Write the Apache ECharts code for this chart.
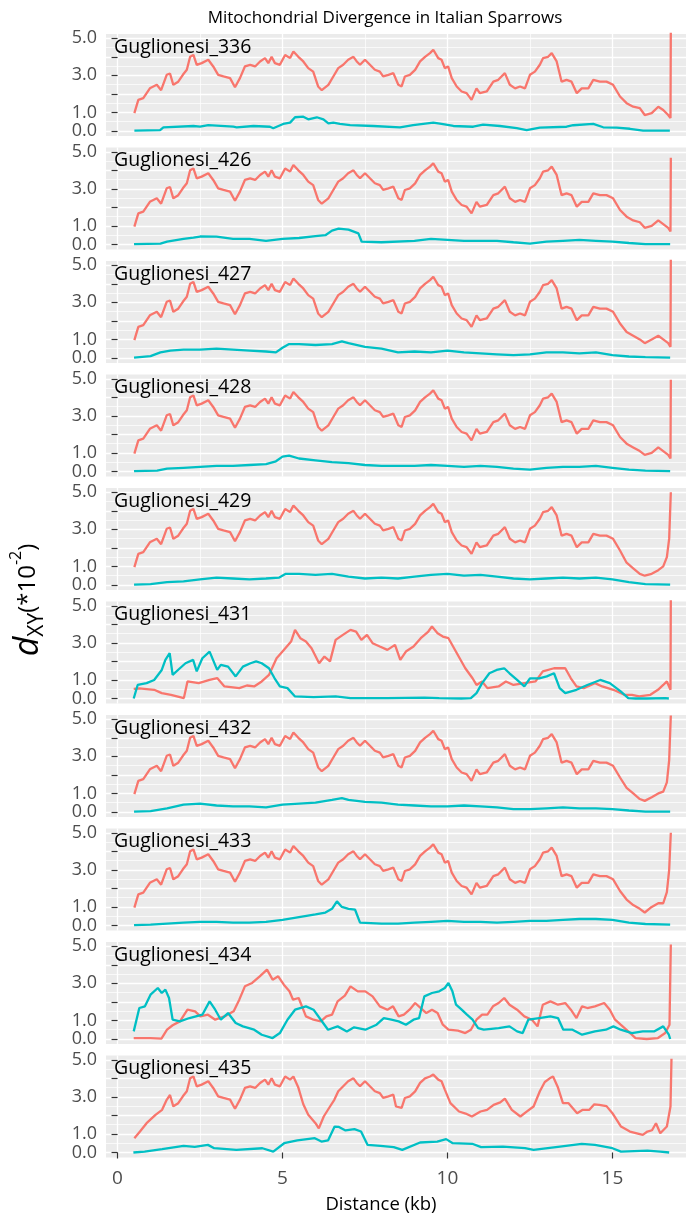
<!DOCTYPE html>
<html><head><meta charset="utf-8">
<script src="https://cdn.jsdelivr.net/npm/echarts@6/dist/echarts.min.js"></script>
<style>html,body{margin:0;padding:0;background:#fff}#c{width:686px;height:1218px}</style>
</head><body><div id="c"></div>
<script>
const panelNames = ['Guglionesi_336','Guglionesi_426','Guglionesi_427','Guglionesi_428','Guglionesi_429','Guglionesi_431','Guglionesi_432','Guglionesi_433','Guglionesi_434','Guglionesi_435'];
const yTickValues = [0,1,2,3,4,5];
const yLabelValues = [0,1,3,5];
const yMinorValues = [0.5,1.5,2.5,3.5,4.5];
const xTickValues = [0,5,10,15];
const xMinorValues = [2.5,7.5,12.5];

const red_336 = [[0.51,0.96],[0.63,1.68],[0.78,1.77],[0.98,2.3],[1.19,2.49],[1.32,2.2],[1.49,3.03],[1.59,3.1],[1.69,2.49],[1.84,2.66],[1.98,3.03],[2.1,3.3],[2.2,4.0],[2.3,4.1],[2.4,3.57],[2.55,3.66],[2.75,3.84],[2.9,3.48],[3.05,3.03],[3.21,2.94],[3.41,2.85],[3.56,2.36],[3.71,2.85],[3.86,3.48],[4.02,3.57],[4.17,3.48],[4.32,3.75],[4.47,3.93],[4.57,3.66],[4.67,4.0],[4.77,3.66],[4.92,3.57],[5.08,4.1],[5.23,3.93],[5.33,4.29],[5.48,4.0],[5.63,3.75],[5.78,3.39],[5.93,3.2],[6.08,2.4],[6.19,2.2],[6.39,2.49],[6.54,2.94],[6.69,3.39],[6.84,3.57],[6.99,3.84],[7.15,4.0],[7.25,3.75],[7.35,3.57],[7.5,3.84],[7.65,3.57],[7.8,3.3],[7.95,3.2],[8.05,2.94],[8.21,3.03],[8.36,3.12],[8.51,2.49],[8.61,2.4],[8.71,2.94],[8.86,3.03],[9.02,3.3],[9.17,3.75],[9.32,4.0],[9.47,4.2],[9.57,4.38],[9.72,3.93],[9.82,3.84],[9.92,3.39],[10.02,3.48],[10.13,2.85],[10.28,2.4],[10.43,2.13],[10.58,2.04],[10.73,1.68],[10.88,2.3],[10.98,2.04],[11.19,2.13],[11.39,2.66],[11.54,2.76],[11.74,3.12],[11.89,2.49],[12.05,2.3],[12.2,2.4],[12.35,2.3],[12.5,3.03],[12.65,3.2],[12.8,3.57],[12.9,3.93],[13.05,4.0],[13.16,4.2],[13.31,3.75],[13.46,2.66],[13.61,2.76],[13.76,2.66],[13.92,2.04],[14.07,2.3],[14.27,2.3],[14.42,2.76],[14.62,2.66],[14.82,2.66],[15.02,2.49],[15.23,1.86],[15.43,1.5],[15.63,1.31],[15.83,1.23],[15.98,0.86],[16.19,0.96],[16.39,1.31],[16.54,1.13],[16.69,0.86],[16.76,0.7],[16.77,5.6]];
const cyan_336 = [[0.51,0.02],[1.29,0.05],[1.39,0.2],[2.3,0.27],[2.5,0.23],[2.75,0.32],[3.51,0.23],[3.61,0.2],[4.12,0.27],[4.62,0.23],[4.72,0.15],[5.02,0.38],[5.23,0.45],[5.38,0.74],[5.63,0.77],[5.78,0.63],[6.04,0.74],[6.24,0.63],[6.39,0.41],[6.54,0.45],[6.74,0.38],[7.05,0.32],[7.75,0.27],[8.56,0.2],[8.96,0.32],[9.57,0.45],[9.82,0.38],[10.18,0.27],[10.78,0.23],[11.08,0.34],[11.59,0.27],[12.1,0.15],[12.4,0.05],[12.8,0.18],[13.61,0.23],[13.81,0.31],[14.42,0.38],[14.72,0.2],[15.13,0.18],[15.53,0.12],[15.93,0.02],[16.74,0.02]];

const redHead = red_336.filter(p => p[0] < 15.4);
const red_426 = redHead.concat([[15.43,1.5],[15.63,1.3],[15.83,1.2],[15.98,0.9],[16.19,1.0],[16.39,1.3],[16.54,1.1],[16.69,0.9],[16.76,0.7],[16.77,4.68]]);
const cyan_426 = [[0.5,0.02],[1.3,0.05],[1.5,0.15],[2.0,0.3],[2.3,0.37],[2.5,0.43],[3.0,0.42],[3.5,0.3],[4.0,0.3],[4.5,0.2],[5.0,0.3],[5.5,0.35],[6.0,0.45],[6.3,0.5],[6.5,0.75],[6.7,0.85],[7.0,0.8],[7.3,0.6],[7.4,0.15],[8.0,0.12],[9.0,0.2],[9.5,0.3],[10.0,0.25],[10.5,0.2],[11.0,0.2],[11.5,0.2],[12.0,0.12],[12.5,0.05],[13.0,0.15],[13.5,0.2],[14.0,0.25],[14.5,0.2],[15.0,0.15],[15.5,0.08],[16.0,0.02],[16.75,0.02]];
const red_427 = redHead.concat([[15.43,1.4],[15.63,1.2],[15.83,1.0],[15.98,0.8],[16.19,1.0],[16.39,1.2],[16.54,1.0],[16.69,0.8],[16.76,0.6],[16.77,5.6]]);
const cyan_427 = [[0.5,0.02],[1.0,0.1],[1.3,0.3],[1.6,0.4],[2.0,0.45],[2.5,0.45],[3.0,0.5],[3.5,0.45],[4.0,0.4],[4.5,0.35],[4.8,0.3],[5.0,0.55],[5.2,0.75],[5.5,0.75],[6.0,0.7],[6.5,0.75],[6.8,0.9],[7.0,0.8],[7.5,0.6],[8.0,0.5],[8.5,0.3],[9.0,0.35],[9.5,0.3],[10.0,0.4],[10.5,0.3],[11.0,0.25],[11.5,0.2],[12.0,0.15],[12.5,0.2],[13.0,0.3],[13.5,0.3],[14.0,0.25],[14.5,0.3],[15.0,0.15],[15.5,0.08],[16.0,0.05],[16.75,0.02]];
const red_428 = redHead.concat([[15.43,1.5],[15.63,1.3],[15.83,1.1],[15.98,0.9],[16.19,1.0],[16.39,1.3],[16.54,1.1],[16.69,0.9],[16.76,0.7],[16.77,4.95]]);
const cyan_428 = [[0.5,0.02],[1.2,0.05],[1.5,0.15],[2.0,0.2],[2.5,0.25],[3.0,0.3],[3.5,0.3],[4.0,0.35],[4.5,0.4],[4.8,0.55],[5.0,0.8],[5.2,0.85],[5.5,0.7],[6.0,0.6],[6.5,0.5],[7.0,0.45],[7.5,0.35],[8.0,0.3],[9.0,0.3],[9.5,0.35],[10.0,0.3],[10.5,0.25],[11.0,0.3],[11.5,0.25],[12.0,0.15],[12.5,0.1],[13.0,0.2],[13.5,0.25],[14.0,0.25],[14.5,0.3],[15.0,0.2],[15.5,0.1],[16.0,0.05],[16.75,0.02]];
const red_429 = redHead.concat([[15.43,1.2],[15.63,0.9],[15.83,0.6],[15.98,0.5],[16.19,0.6],[16.39,0.8],[16.54,1.0],[16.65,1.5],[16.72,2.5],[16.77,5.0]]);
const cyan_429 = [[0.5,0.02],[1.0,0.05],[1.5,0.15],[2.0,0.2],[2.5,0.3],[3.0,0.4],[3.5,0.35],[4.0,0.3],[4.5,0.35],[4.9,0.4],[5.1,0.6],[5.5,0.6],[6.0,0.55],[6.5,0.6],[7.0,0.45],[7.5,0.35],[8.0,0.4],[8.5,0.35],[9.0,0.45],[9.5,0.55],[10.0,0.6],[10.5,0.5],[11.0,0.55],[11.5,0.45],[12.0,0.35],[12.5,0.3],[13.0,0.35],[13.5,0.4],[14.0,0.35],[14.5,0.4],[15.0,0.3],[15.5,0.15],[16.0,0.05],[16.75,0.02]];
const red_431 = [[0.49,0.52],[0.66,0.55],[1.11,0.47],[1.34,0.29],[1.62,0.2],[2.01,0.02],[2.12,0.92],[2.46,0.83],[2.79,1.0],[3.02,1.1],[3.24,0.65],[3.69,0.56],[3.92,0.7],[4.14,0.65],[4.37,0.92],[4.59,1.27],[4.82,2.17],[5.04,2.62],[5.26,3.07],[5.38,3.7],[5.54,3.25],[5.71,3.07],[5.88,2.71],[6.11,1.9],[6.27,2.26],[6.44,2.0],[6.61,3.16],[6.83,3.43],[7.06,3.7],[7.23,3.61],[7.39,3.16],[7.56,3.43],[7.73,2.98],[7.95,2.8],[8.18,2.62],[8.41,2.89],[8.57,2.08],[8.74,2.53],[8.97,2.8],[9.19,3.25],[9.42,3.61],[9.53,3.88],[9.7,3.52],[9.86,3.34],[10.03,3.25],[10.2,2.71],[10.37,2.17],[10.54,1.63],[10.76,1.09],[10.88,0.73],[11.05,0.92],[11.21,0.56],[11.55,0.65],[11.77,0.92],[12.0,0.73],[12.33,0.83],[12.67,0.92],[12.89,1.46],[13.23,1.63],[13.57,1.63],[13.74,1.09],[13.91,0.65],[14.13,0.56],[14.47,0.83],[14.69,0.65],[15.03,0.47],[15.36,0.2],[15.59,0.2],[15.81,0.11],[16.15,0.2],[16.38,0.47],[16.54,0.73],[16.65,0.92],[16.76,0.47],[16.77,5.6]];
const cyan_431 = [[0.49,0.0],[0.61,0.73],[0.88,0.83],[1.11,1.0],[1.34,1.54],[1.45,2.08],[1.58,2.44],[1.67,1.27],[1.89,1.63],[2.06,1.9],[2.29,2.08],[2.4,1.46],[2.57,2.17],[2.79,2.53],[3.02,1.54],[3.13,1.81],[3.35,1.72],[3.58,1.19],[3.8,1.72],[4.03,1.9],[4.2,2.0],[4.37,1.9],[4.59,1.63],[4.76,1.09],[4.92,0.65],[5.15,0.56],[5.38,0.11],[5.94,0.07],[6.61,0.11],[7.06,0.02],[8.18,0.02],[9.3,0.05],[9.75,0.02],[10.42,0.0],[10.71,0.02],[10.88,0.29],[11.05,0.83],[11.27,1.36],[11.49,1.54],[11.72,1.63],[11.88,1.36],[12.11,1.0],[12.33,0.65],[12.5,1.09],[12.78,1.09],[13.01,1.19],[13.23,1.36],[13.4,0.56],[13.57,0.29],[13.91,0.47],[14.24,0.73],[14.63,1.0],[14.92,0.83],[15.25,0.38],[15.48,0.02],[15.7,0.0],[16.04,0.0],[16.6,0.02],[16.71,0.0]];
const red_432 = redHead.concat([[15.43,1.3],[15.63,1.0],[15.83,0.7],[15.98,0.6],[16.19,0.8],[16.39,1.0],[16.54,1.1],[16.65,1.6],[16.72,2.8],[16.77,5.2]]);
const cyan_432 = [[0.5,0.02],[1.0,0.05],[1.5,0.2],[2.0,0.4],[2.5,0.45],[3.0,0.35],[3.5,0.3],[4.0,0.3],[4.5,0.25],[5.0,0.4],[5.5,0.45],[6.0,0.5],[6.5,0.65],[6.8,0.75],[7.0,0.65],[7.5,0.55],[8.0,0.5],[8.5,0.4],[9.0,0.35],[9.5,0.3],[10.0,0.3],[10.5,0.35],[11.0,0.3],[11.5,0.25],[12.0,0.15],[12.5,0.15],[13.0,0.2],[13.5,0.25],[14.0,0.2],[14.5,0.2],[15.0,0.15],[15.5,0.08],[16.0,0.02],[16.75,0.02]];
const red_433 = redHead.concat([[15.43,1.4],[15.63,1.1],[15.83,0.9],[15.98,0.7],[16.19,1.0],[16.39,1.2],[16.54,1.2],[16.65,1.8],[16.72,3.0],[16.77,5.0]]);
const cyan_433 = [[0.5,0.02],[1.0,0.05],[1.5,0.1],[2.0,0.15],[2.5,0.2],[3.0,0.2],[3.5,0.15],[4.0,0.15],[4.5,0.2],[5.0,0.3],[5.5,0.45],[6.0,0.6],[6.3,0.7],[6.5,0.9],[6.65,1.3],[6.8,1.0],[7.0,0.9],[7.2,0.85],[7.35,0.15],[8.0,0.1],[8.5,0.1],[9.0,0.15],[9.5,0.2],[10.0,0.25],[10.5,0.2],[11.0,0.2],[11.5,0.15],[12.0,0.2],[12.5,0.25],[13.0,0.25],[13.5,0.3],[14.0,0.35],[14.5,0.35],[15.0,0.3],[15.5,0.15],[16.0,0.08],[16.75,0.05]];
const red_434 = [[0.49,0.05],[1.0,0.05],[1.33,0.02],[1.5,0.5],[1.67,0.74],[1.89,0.95],[2.12,1.58],[2.35,1.49],[2.51,1.22],[2.74,1.31],[2.96,1.04],[3.24,1.22],[3.52,1.49],[3.69,2.12],[3.86,2.84],[4.08,3.02],[4.31,3.38],[4.53,3.74],[4.7,3.2],[4.87,3.38],[5.04,2.93],[5.21,2.57],[5.32,2.12],[5.49,2.21],[5.71,1.22],[5.94,1.04],[6.16,0.95],[6.33,1.22],[6.5,1.31],[6.67,2.03],[6.89,2.34],[7.06,2.84],[7.28,2.57],[7.51,2.57],[7.73,2.3],[7.95,1.76],[8.18,1.58],[8.35,1.76],[8.52,1.22],[8.68,1.31],[8.85,1.58],[9.02,1.94],[9.19,1.67],[9.36,1.4],[9.53,1.58],[9.7,1.4],[9.86,0.77],[10.03,0.5],[10.32,0.45],[10.54,0.32],[10.71,0.5],[10.88,1.04],[11.05,1.31],[11.21,1.31],[11.38,1.76],[11.55,1.94],[11.72,2.21],[11.88,1.85],[12.11,1.58],[12.33,1.22],[12.56,1.04],[12.73,0.68],[12.89,1.85],[13.12,2.03],[13.35,1.85],[13.57,1.94],[13.74,1.58],[13.91,1.13],[14.08,1.76],[14.24,1.67],[14.47,1.76],[14.75,1.94],[14.92,1.58],[15.08,1.04],[15.25,0.77],[15.48,0.41],[15.7,0.05],[16.04,0.0],[16.38,0.05],[16.6,0.32],[16.73,0.77],[16.77,5.1]];
const cyan_434 = [[0.49,0.41],[0.66,1.67],[0.83,1.76],[1.0,2.39],[1.22,2.75],[1.34,2.48],[1.45,2.66],[1.56,2.21],[1.67,1.04],[1.89,0.95],[2.18,1.13],[2.57,1.31],[2.79,2.03],[2.96,1.58],[3.13,1.04],[3.35,1.4],[3.58,0.86],[3.8,0.68],[4.14,0.5],[4.37,0.23],[4.7,0.05],[4.92,0.32],[5.15,1.04],[5.38,1.58],[5.71,1.76],[5.94,1.58],[6.16,1.04],[6.38,0.5],[6.67,0.68],[6.95,0.41],[7.17,0.63],[7.51,0.5],[7.85,0.77],[8.07,1.13],[8.3,1.04],[8.52,0.95],[8.74,0.77],[8.97,1.04],[9.14,1.13],[9.3,2.3],[9.53,2.48],[9.75,2.57],[9.92,2.75],[10.03,3.02],[10.15,2.57],[10.26,1.85],[10.43,1.58],[10.59,1.31],[10.76,1.04],[10.93,0.59],[11.1,0.5],[11.55,0.59],[11.88,0.68],[12.11,0.41],[12.28,0.32],[12.45,1.04],[12.78,1.13],[13.12,1.22],[13.35,1.13],[13.51,0.5],[13.79,0.5],[14.08,0.23],[14.47,0.41],[14.8,0.5],[15.03,0.68],[15.25,0.5],[15.59,0.32],[15.92,0.41],[16.26,0.41],[16.54,0.68],[16.71,0.23],[16.75,0.0]];
const red_435 = [[0.51,0.77],[0.68,1.13],[0.88,1.58],[1.15,2.03],[1.35,2.3],[1.49,2.84],[1.59,3.1],[1.69,2.49],[1.84,2.66],[1.98,3.03],[2.1,3.3],[2.2,4.0],[2.3,4.1],[2.4,3.57],[2.55,3.66],[2.75,3.84],[2.9,3.48],[3.05,3.03],[3.21,2.94],[3.41,2.85],[3.56,2.36],[3.71,2.85],[3.86,3.48],[4.02,3.57],[4.17,3.48],[4.32,3.75],[4.47,3.93],[4.57,3.66],[4.67,4.0],[4.77,3.66],[4.92,3.57],[5.08,4.1],[5.23,3.93],[5.33,4.1],[5.48,3.5],[5.63,2.6],[5.78,2.03],[6.0,1.58],[6.1,1.3],[6.25,1.94],[6.44,2.48],[6.57,2.84],[6.69,3.3],[6.84,3.57],[6.99,3.84],[7.15,4.0],[7.25,3.75],[7.35,3.57],[7.5,3.84],[7.65,3.57],[7.8,3.3],[7.95,3.2],[8.05,2.94],[8.21,3.03],[8.36,3.12],[8.44,2.48],[8.61,2.4],[8.71,2.94],[8.86,3.03],[9.02,3.3],[9.17,3.75],[9.32,4.0],[9.47,4.1],[9.57,4.2],[9.72,3.93],[9.82,3.84],[9.92,3.39],[10.09,2.66],[10.35,2.21],[10.55,2.1],[10.74,1.94],[11.0,2.21],[11.2,2.3],[11.4,2.57],[11.6,2.7],[11.74,2.9],[11.95,2.3],[12.21,1.94],[12.4,2.2],[12.61,2.48],[12.8,3.3],[12.95,3.8],[13.1,4.0],[13.2,4.1],[13.35,3.5],[13.5,2.66],[13.67,2.66],[13.93,2.12],[14.1,2.3],[14.3,2.3],[14.45,2.6],[14.6,2.57],[14.82,2.5],[15.0,2.12],[15.26,1.4],[15.53,1.13],[15.92,0.95],[16.06,1.13],[16.2,1.2],[16.32,1.58],[16.45,1.04],[16.65,1.4],[16.76,2.48],[16.79,5.05]];
const cyan_435 = [[0.48,0.0],[0.82,0.05],[1.35,0.18],[2.0,0.36],[2.34,0.3],[2.74,0.41],[2.93,0.23],[3.6,0.14],[4.39,0.23],[4.72,0.05],[5.05,0.5],[5.45,0.65],[5.98,0.77],[6.18,0.59],[6.38,0.65],[6.58,1.4],[6.71,1.38],[6.91,1.19],[7.18,1.26],[7.38,1.13],[7.58,0.41],[7.97,0.36],[8.37,0.29],[8.63,0.14],[9.17,0.54],[9.69,0.59],[9.96,0.72],[10.16,0.5],[10.75,0.47],[11.02,0.29],[11.68,0.32],[12.35,0.23],[12.61,0.14],[13.41,0.32],[14.07,0.47],[14.47,0.41],[15.0,0.23],[15.26,0.05],[16.06,0.1],[16.45,0.05],[16.72,0.0]];

const redSeries = [red_336,red_426,red_427,red_428,red_429,red_431,red_432,red_433,red_434,red_435];
const cyanSeries = [cyan_336,cyan_426,cyan_427,cyan_428,cyan_429,cyan_431,cyan_432,cyan_433,cyan_434,cyan_435];

const FONT = 'Open Sans';
const X_MIN = -0.35, X_MAX = 17.23, Y_MIN = -0.27, Y_MAX = 5.23;
const TOP0 = 34, STEP = 113.5, PH = 102, LEFT = 106;
const grids = [], xAxes = [], yAxes = [], series = [], graphics = [];

panelNames.forEach((name, i) => {
  const top = TOP0 + i * STEP;
  const last = i === panelNames.length - 1;
  grids.push({left: LEFT, right: 0, top: top, height: PH, show: true, backgroundColor: '#EBEBEB', borderWidth: 0});
  xAxes.push({gridIndex: i, type: 'value', min: X_MIN, max: X_MAX, position: 'bottom',
    axisLine: {show: false},
    axisTick: {show: last, customValues: xTickValues, length: 6, lineStyle: {color: '#333333', width: 1.2}},
    axisLabel: {show: last, customValues: xTickValues, fontFamily: FONT, fontSize: 19, color: '#4D4D4D', margin: 12},
    splitLine: {show: true, lineStyle: {color: '#FFFFFF', width: 1.3}}});
  xAxes.push({gridIndex: i, type: 'value', min: X_MIN, max: X_MAX, position: 'bottom',
    axisLine: {show: false}, axisTick: {show: false, customValues: xMinorValues}, axisLabel: {show: false},
    splitLine: {show: true, lineStyle: {color: '#FFFFFF', width: 0.7}}});
  yAxes.push({gridIndex: i, type: 'value', min: Y_MIN, max: Y_MAX, position: 'left',
    axisLine: {show: false},
    axisTick: {show: true, customValues: yTickValues, length: 6, lineStyle: {color: '#333333', width: 1.2}},
    axisLabel: {customValues: yLabelValues, formatter: v => Number(v).toFixed(1), fontFamily: FONT, fontSize: 18, color: '#4D4D4D', margin: 9},
    splitLine: {show: true, lineStyle: {color: '#FFFFFF', width: 1.3}}});
  yAxes.push({gridIndex: i, type: 'value', min: Y_MIN, max: Y_MAX, position: 'left',
    axisLine: {show: false}, axisTick: {show: false, customValues: yMinorValues}, axisLabel: {show: false},
    splitLine: {show: true, lineStyle: {color: '#FFFFFF', width: 0.7}}});
  series.push({type: 'line', xAxisIndex: 2 * i, yAxisIndex: 2 * i, data: redSeries[i], showSymbol: false, symbol: 'none',
    lineStyle: {color: '#F8766D', width: 2.3}, itemStyle: {color: '#F8766D'}, silent: true, animation: false, z: 3});
  series.push({type: 'line', xAxisIndex: 2 * i, yAxisIndex: 2 * i, data: cyanSeries[i], showSymbol: false, symbol: 'none',
    lineStyle: {color: '#00BFC4', width: 2.3}, itemStyle: {color: '#00BFC4'}, silent: true, animation: false, z: 4});
  graphics.push({type: 'text', x: 114, y: top + 13, z: 10,
    style: {text: name, fontFamily: FONT, fontSize: 19.5, fill: '#000', align: 'left', verticalAlign: 'middle'}});
});

graphics.push({type: 'text', x: 385, y: 18, style: {text: 'Mitochondrial Divergence in Italian Sparrows', fontFamily: FONT, fontSize: 17, fill: '#000', align: 'center', verticalAlign: 'middle'}});
graphics.push({type: 'text', x: 381, y: 1205, style: {text: 'Distance (kb)', fontFamily: FONT, fontSize: 18.5, fill: '#000', align: 'center', verticalAlign: 'middle'}});
graphics.push({type: 'text', x: 28, y: 600, rotation: Math.PI / 2,
  style: {text: '{d|d}{s|XY}{p|(*10}{sup|-2}{p|)}', align: 'center', verticalAlign: 'middle', fill: '#000',
    rich: {
      d: {fontFamily: FONT, fontSize: 34, fontStyle: 'italic', lineHeight: 40, fill: '#000'},
      s: {fontFamily: FONT, fontSize: 21, lineHeight: 21, verticalAlign: 'bottom', fill: '#000'},
      p: {fontFamily: FONT, fontSize: 24, lineHeight: 32, fill: '#000'},
      sup: {fontFamily: FONT, fontSize: 16, lineHeight: 16, verticalAlign: 'top', fill: '#000'}
    }}});

const chart = echarts.init(document.getElementById('c'), null, {renderer: 'canvas'});
chart.setOption({animation: false, grid: grids, xAxis: xAxes, yAxis: yAxes, series: series, graphic: graphics});
</script></body></html>
